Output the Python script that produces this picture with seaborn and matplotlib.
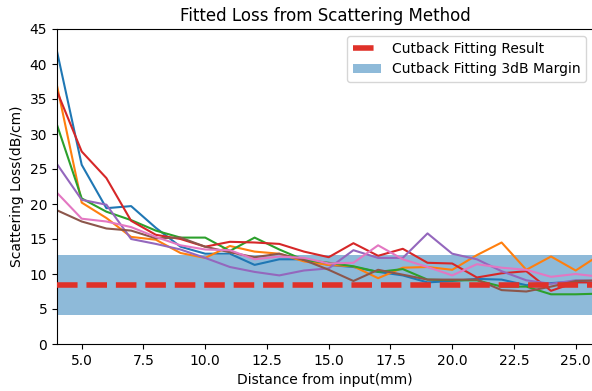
import numpy as np
import pandas as pd
import matplotlib
matplotlib.use("Agg")
import matplotlib.pyplot as plt
import seaborn as sns

# Distance along the waveguide (mm)
distance = list(range(4, 27))

# Scattering loss per measurement run (dB/cm)
run_1 = [41.8, 25.6, 19.4, 19.7, 16.6, 13.9, 12.9, 12.9, 11.3, 12.1, 12.1, 11.3, 11.0, 10.3, 9.8, 8.8, 9.0, 9.3, 9.2, 8.4, 8.7, 8.9, 9.0]
run_2 = [36.9, 20.2, 18.0, 15.3, 14.9, 13.0, 12.3, 14.0, 13.2, 12.9, 11.8, 11.3, 11.1, 9.4, 10.9, 11.0, 10.6, 12.7, 14.5, 10.6, 12.5, 10.5, 12.8]
run_3 = [31.3, 20.8, 18.9, 17.7, 16.2, 15.2, 15.2, 13.3, 15.2, 13.5, 12.0, 11.6, 11.1, 10.3, 10.7, 9.2, 9.1, 9.1, 8.2, 8.2, 7.1, 7.1, 7.2]
run_4 = [36.1, 27.5, 23.7, 17.6, 15.6, 15.0, 13.9, 14.6, 14.5, 14.3, 13.2, 12.4, 14.4, 12.6, 13.6, 11.6, 11.5, 9.5, 10.1, 10.4, 7.6, 8.8, 8.8]
run_5 = [25.7, 20.6, 19.9, 15.0, 14.3, 13.5, 12.3, 11.0, 10.3, 9.8, 10.5, 10.8, 13.4, 12.3, 12.3, 15.8, 12.9, 12.1, 10.4, 9.1, 8.6, 9.1, 9.0]
run_6 = [19.1, 17.5, 16.5, 16.2, 15.1, 15.2, 13.9, 13.1, 12.4, 12.9, 12.0, 10.6, 9.0, 10.6, 9.9, 9.2, 9.2, 9.2, 7.7, 7.5, 8.2, 9.0, 9.1]
run_7 = [21.6, 17.9, 17.5, 16.7, 15.3, 14.1, 13.5, 13.4, 12.1, 12.5, 12.3, 11.5, 11.6, 14.1, 12.1, 11.0, 9.8, 11.4, 10.9, 10.6, 9.6, 10.0, 9.6]

# Cutback fit and its 3 dB band (dB/cm)
cutback_fit = 8.45
margin_low = 4.2
margin_high = 12.7

runs = [run_1, run_2, run_3, run_4, run_5, run_6, run_7]
palette = ["#1f77b4", "#ff7f0e", "#2ca02c", "#d62728", "#9467bd", "#8c564b", "#e377c2"]

frames = []
for i, vals in enumerate(runs):
    frames.append(pd.DataFrame({"distance": distance, "loss": vals, "run": f"run {i + 1}"}))
df = pd.concat(frames, ignore_index=True)

fig = plt.figure(figsize=(5.92, 3.91), dpi=100)
ax = fig.add_axes([57 / 592, 47 / 391, 536 / 592, 315 / 391])

ax.axhspan(margin_low, margin_high, color="#1f77b4", alpha=0.5, lw=0,
           label="Cutback Fitting 3dB Margin", zorder=1)
sns.lineplot(data=df, x="distance", y="loss", hue="run", palette=palette,
             legend=False, ax=ax, lw=1.5, zorder=2)
ax.axhline(cutback_fit, color="#df3129", ls="--", lw=4,
           label="Cutback Fitting Result", zorder=3)

ax.set_xlim(4, 25.7)
ax.set_ylim(0, 45)
ax.set_yticks(np.arange(0, 46, 5))
ax.set_xticks(np.arange(5, 26, 2.5))
ax.set_title("Fitted Loss from Scattering Method", fontsize=12)
ax.set_xlabel("Distance from input(mm)", fontsize=10)
ax.set_ylabel("Scattering Loss(dB/cm)", fontsize=10)
ax.tick_params(labelsize=10)

handles, labels = ax.get_legend_handles_labels()
order = [labels.index("Cutback Fitting Result"), labels.index("Cutback Fitting 3dB Margin")]
ax.legend([handles[k] for k in order], [labels[k] for k in order],
          loc="upper right", fontsize=10)

fig.savefig("out.png", dpi=100)
